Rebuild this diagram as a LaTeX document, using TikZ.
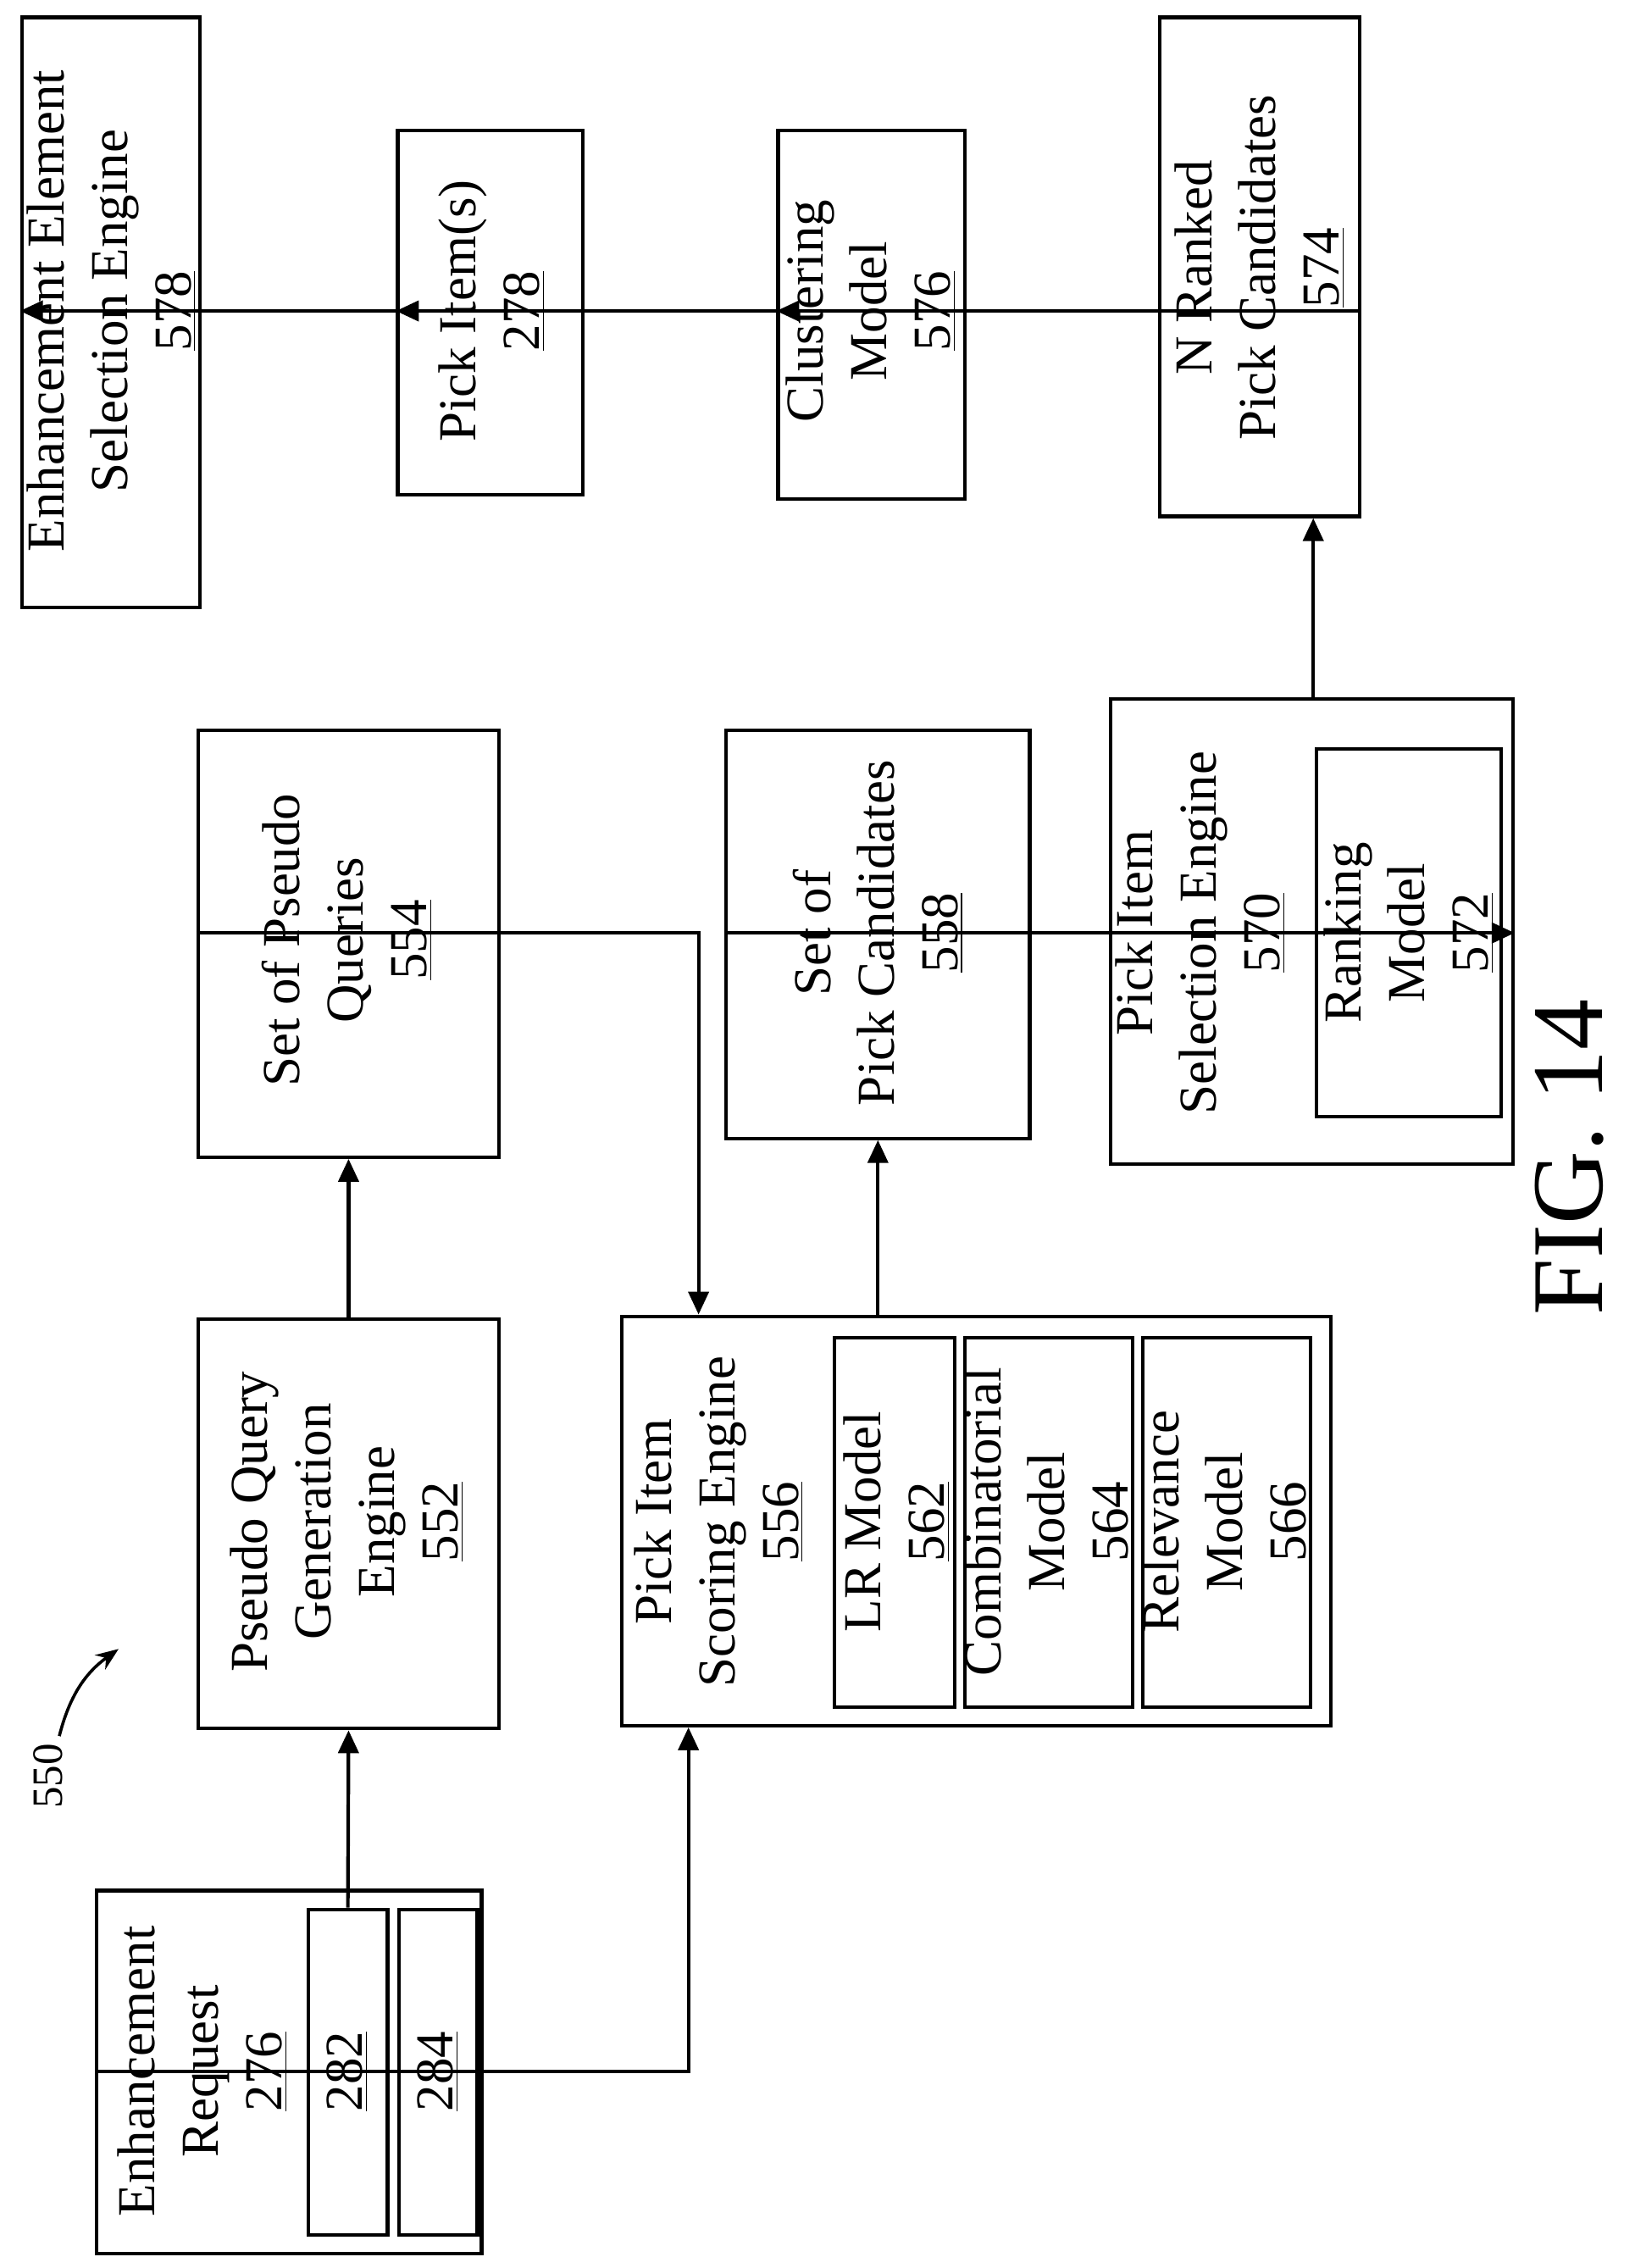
\documentclass[tikz,border=0pt]{standalone}
\usepackage{fontspec}
\setmainfont{Liberation Serif}
\usetikzlibrary{arrows.meta}
\tikzset{
  box/.style={draw,line width=1.4pt,rotate=90,inner sep=0pt},
  lbl/.style={rotate=90,align=center,font=\fontsize{21}{25}\selectfont,inner sep=0pt},
  conn/.style={line width=1.4pt,-{Triangle[length=9pt,width=8pt]}}
}
% box from its corners (x1,y1) to (x2,y2), text reading upwards
\newcommand\bx[5]{\node[box,minimum width={(#5-#3)*0.02cm},minimum height={(#4-#2)*0.02cm}] (#1) at ({(#2+#4)/2},{(#3+#5)/2}) {};}
\begin{document}
\begin{tikzpicture}[x=0.02cm,y=-0.02cm]
  \useasboundingbox (0,0) rectangle (1130,1568);
  % Top row
  \bx{eese}{15}{12}{138}{420}
  \node[lbl] (teese) at (77,215) {Enhancement Element\\Selection Engine\\\underline{578}};
  \bx{pick}{275}{90}{403}{342}
  \node[lbl] (tpick) at (340,215) {Pick Item(s)\\\underline{278}};
  \bx{clus}{538}{90}{667}{345}
  \node[lbl] (tclus) at (602,215) {Clustering\\Model\\\underline{576}};
  \bx{nrank}{802}{12}{940}{357}
  \node[lbl] (tnrank) at (871,185) {N Ranked\\Pick Candidates\\\underline{574}};
  % Middle row
  \bx{queries}{137}{505}{345}{800}
  \node[lbl] (tqueries) at (240,650) {Set of Pseudo\\Queries\\\underline{554}};
  \bx{cands}{502}{505}{712}{787}
  \node[lbl] (tcands) at (607,645) {Set of\\Pick Candidates\\\underline{558}};
  \bx{select}{768}{483}{1046}{805}
  \node[lbl] (tselect) at (830,645) {Pick Item\\Selection Engine\\\underline{570}};
  \bx{rank}{910}{518}{1038}{772}
  \node[lbl] (trank) at (974,645) {Ranking\\Model\\\underline{572}};
  % Bottom row
  \bx{gen}{137}{912}{345}{1195}
  \node[lbl] (tgen) at (240,1052) {Pseudo Query\\Generation\\Engine\\\underline{552}};
  \bx{score}{430}{910}{920}{1193}
  \node[lbl] (tscore) at (497,1052) {Pick Item\\Scoring Engine\\\underline{556}};
  \bx{lr}{577}{925}{660}{1180}
  \node[lbl] (tlr) at (620,1052) {LR Model\\\underline{562}};
  \bx{comb}{667}{925}{783}{1180}
  \node[lbl] (tcomb) at (725,1052) {Combinatorial\\Model\\\underline{564}};
  \bx{rel}{790}{925}{906}{1180}
  \node[lbl] (trel) at (848,1052) {Relevance\\Model\\\underline{566}};
  \bx{req}{67}{1307}{333}{1558}
  \node[lbl] (treq) at (140,1432) {Enhancement\\Request\\\underline{276}};
  \bx{ra}{213}{1320}{268}{1545}
  \node[lbl] (tra) at (240,1432) {\underline{282}};
  \bx{rb}{276}{1320}{330}{1545}
  \node[lbl] (trb) at (303,1432) {\underline{284}};
  % Labels
  \node[lbl,font=\fontsize{17}{20}\selectfont] (ref) at (33,1228) {550};
  \coordinate (refend) at (82,1140);
  \draw[line width=1.2pt,-{Stealth[length=9pt,width=7pt]}] (ref.east) ++(8,-5) to[bend left=20] (refend);
  \node[lbl,font=\fontsize{40}{44}\selectfont] (fig) at (1085,800) {FIG. 14};
  % Connectors
  \draw[conn] (nrank.south |- 0,215) -- (clus.north |- 0,215);
  \draw[conn] (clus.south |- 0,215) -- (pick.north |- 0,215);
  \draw[conn] (pick.south |- 0,215) -- (eese.north |- 0,215);
  \draw[conn] (select.east -| 908,0) -- (nrank.west -| 908,0);
  \draw[conn] (cands.north |- 0,645) -- (select.south |- 0,645);
  \draw[conn] (score.east -| 607,0) -- (cands.west -| 607,0);
  \draw[conn] (queries.north |- 0,645) -| (score.east -| 483,0);
  \draw[conn] (gen.east) -- (queries.west);
  \draw[conn] (ra.east) -- (gen.west);
  \draw[conn] (req.north |- 0,1432) -| (score.west -| 476,0);
\end{tikzpicture}
\end{document}
